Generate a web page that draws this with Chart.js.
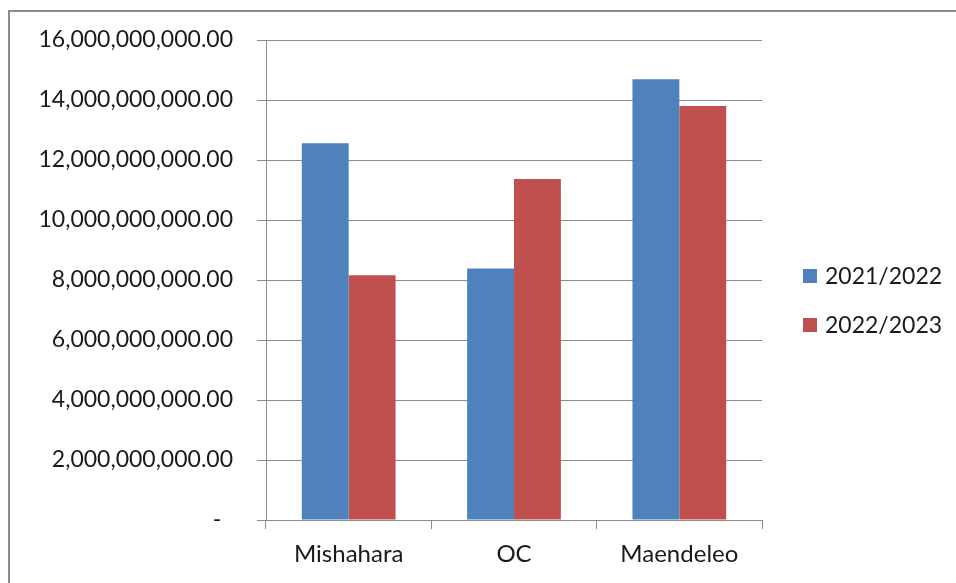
<!DOCTYPE html>
<html>
<head>
<meta charset="utf-8">
<script src="https://cdn.jsdelivr.net/npm/chart.js@4/dist/chart.umd.min.js"></script>
<style>
  body { margin: 0; background: #fff; }
  #wrap { position: relative; width: 956px; height: 583px; overflow: hidden; }
  #frame { position: absolute; left: 8px; top: 10px; width: 1000px; height: 700px; border: 2px solid #8c8c8c; box-sizing: border-box; }
  #chart { position: absolute; left: 0; top: 0; }
  .key { position: absolute; left: 803px; font: 23px Lato, sans-serif; color: #1a1a1a; line-height: 1; }
  .key span { display: inline-block; width: 14px; height: 14px; margin-right: 8px; vertical-align: 1px; }
</style>
</head>
<body>
<div id="wrap">
  <div id="frame"></div>
  <canvas id="chart" width="956" height="583"></canvas>
  <div class="key" style="top:264px"><span style="background:#4F81BD"></span>2021/2022</div>
  <div class="key" style="top:313px"><span style="background:#C0504D"></span>2022/2023</div>
</div>
<script>
  const categories = ['Mishahara', 'OC', 'Maendeleo'];
  const series2021 = [12560000000, 8380000000, 14690000000];
  const series2022 = [8160000000, 11370000000, 13800000000];
  const seriesNames = ['2021/2022', '2022/2023'];

  Chart.defaults.font.family = 'Lato';
  Chart.defaults.font.size = 23;
  Chart.defaults.color = '#1a1a1a';

  const ctx = document.getElementById('chart').getContext('2d');
  new Chart(ctx, {
    type: 'bar',
    data: {
      labels: categories,
      datasets: [
        { label: seriesNames[0], data: series2021, backgroundColor: '#4F81BD' },
        { label: seriesNames[1], data: series2022, backgroundColor: '#C0504D' }
      ]
    },
    options: {
      responsive: false,
      animation: false,
      barPercentage: 1,
      categoryPercentage: 0.567,
      layout: { padding: { left: 0, right: 194, top: 40, bottom: 0 } },
      plugins: { legend: { display: false }, tooltip: { enabled: false } },
      scales: {
        x: {
          grid: { offset: true, drawOnChartArea: false, tickLength: 9, color: '#8c8c8c' },
          border: { color: '#8c8c8c' },
          ticks: { padding: 11, font: { size: 24 } },
          afterFit: (scale) => { scale.height = 63; }
        },
        y: {
          min: 0,
          max: 16000000000,
          ticks: {
            stepSize: 2000000000,
            padding: 24,
            callback: (v) => v === 0 ? '-  ' :
              v.toLocaleString('en-US', { minimumFractionDigits: 2, maximumFractionDigits: 2 })
          },
          grid: { color: '#8c8c8c', tickLength: 9 },
          border: { color: '#8c8c8c' },
          afterFit: (scale) => { scale.width = 266; }
        }
      }
    }
  });
</script>
</body>
</html>
